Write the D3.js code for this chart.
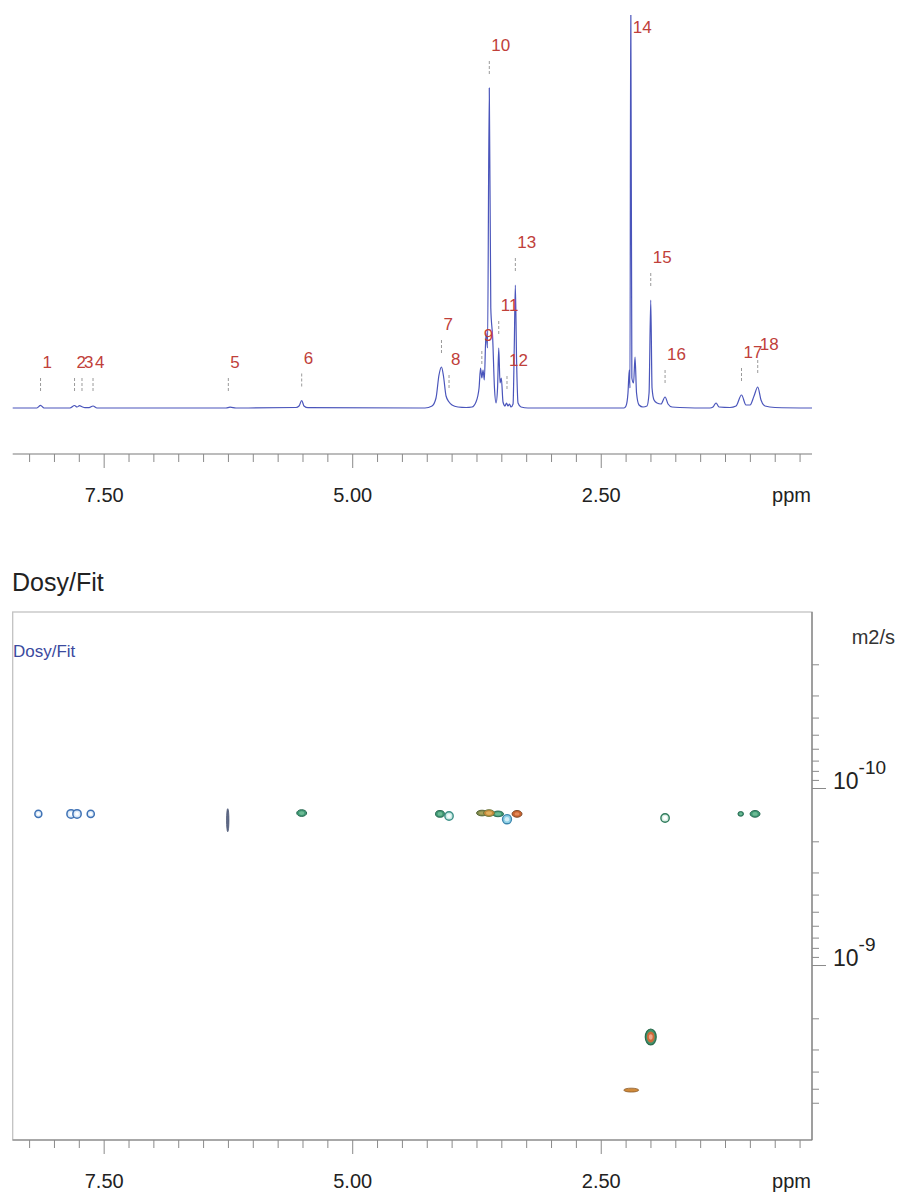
<!DOCTYPE html>
<html>
<head>
<meta charset="utf-8">
<script src="https://cdn.jsdelivr.net/npm/d3@7"></script>
<style>
  body { margin: 0; background: #fff; }
  svg { display: block; font-family: "Liberation Sans", Arial, sans-serif; }
</style>
</head>
<body>
<svg id="chart" width="902" height="1198"></svg>
<script>
// ---- 1H spectrum, traced as [ppm, intensity (a.u.)] ----
const spectrum = [
  [8.415,0],[8.171,0],[8.135,2.6],[8.100,0],[7.839,0],[7.793,2.5],[7.768,1],[7.743,2.3],
  [7.718,1.2],[7.688,0.3],[7.647,0.3],[7.607,2],[7.567,0],[6.269,0],[6.229,0.8],[6.169,0],
  [5.565,0.5],[5.535,2],[5.508,7.5],[5.485,2],[5.445,0.3],[4.268,0],[4.197,2],[4.157,10],
  [4.127,33],[4.102,41],[4.082,32],[4.056,12],[4.026,6],[3.996,3],[3.936,1],[3.855,0.5],
  [3.795,1],[3.755,6],[3.724,20],[3.709,40],[3.696,30],[3.684,38],[3.671,28],[3.654,75],
  [3.639,60],[3.621,320],[3.606,100],[3.587,70],[3.569,20],[3.553,5],[3.538,20],[3.526,60],
  [3.513,25],[3.500,30],[3.483,6],[3.463,2],[3.448,5],[3.433,2],[3.418,4],[3.403,1],
  [3.382,4],[3.370,60],[3.359,123],[3.347,50],[3.332,5],[3.302,1],[3.232,0],[2.266,0],
  [2.246,2],[2.226,15],[2.213,38],[2.206,20],[2.198,420],[2.187,30],[2.170,25],[2.155,51],
  [2.140,15],[2.115,3],[2.075,1],[2.035,2],[2.014,15],[1.997,108],[1.984,20],[1.964,8],
  [1.934,5],[1.894,4],[1.853,11],[1.823,4],[1.783,1],[1.703,0.5],[1.401,0],[1.371,1],
  [1.340,5],[1.310,1],[1.200,0.5],[1.139,2],[1.084,13],[1.039,3],[0.998,3],[0.958,12],
  [0.921,21],[0.888,8],[0.848,2],[0.747,0.5],[0.375,0]
];

// ---- peak picking labels ----
const peakNames = ["1","2","3","4","5","6","7","8","9","10","11","12","13","14","15","16","17","18"];
const peakPpm   = [8.135,7.793,7.718,7.607,6.246,5.508,4.102,4.026,3.696,3.621,3.526,3.443,3.359,2.198,1.997,1.853,1.084,0.921];

// ---- chemical shift axis ----
const ppmRange = [8.415, 0.375];
const ppmTicks = d3.range(2, 34).map(i => i * 0.25);
const ppmLabelled = [7.5, 5.0, 2.5];

// ---- diffusion axis (m2/s) ----
const diffRange = [1.013e-11, 9.74e-9];
const diffTicks = [2e-11,3e-11,4e-11,5e-11,6e-11,7e-11,8e-11,9e-11,1e-10,
                   2e-10,3e-10,4e-10,5e-10,6e-10,7e-10,8e-10,9e-10,1e-9,
                   2e-9,3e-9,4e-9,5e-9,6e-9];
const diffLabelled = [1e-10, 1e-9];

// ---- DOSY fit contours ----
const spotPpm     = [8.157,7.828,7.768,7.630,6.252,5.508,4.117,4.026,3.694,3.533,3.624,3.342,3.443,1.853,1.092,0.948,1.997,2.193];
const spotD       = [1.40e-10,1.40e-10,1.40e-10,1.40e-10,1.52e-10,1.385e-10,1.40e-10,1.44e-10,1.385e-10,1.40e-10,1.385e-10,1.40e-10,1.50e-10,1.477e-10,1.40e-10,1.40e-10,2.55e-9,5.09e-9];
const spotHalfPpm = [0.035,0.042,0.042,0.036,0.012,0.05,0.045,0.042,0.055,0.055,0.055,0.05,0.045,0.042,0.028,0.05,0.055,0.075];
const spotHalfDec = [0.02,0.024,0.024,0.02,0.065,0.019,0.019,0.024,0.016,0.016,0.019,0.019,0.026,0.024,0.013,0.019,0.045,0.011];
const spotTone    = ["blue","blue","blue","blue","slate","green","green","teal","olive","green","orange","rust","cyan","greenRing","green","green","core","amber"];

// contour level styles (outer -> inner)
const tones = {
  blue:      [{k:1, fill:"#dbe9f7", stroke:"#3f72b5", sw:1.5}, {k:0.45, fill:"#ffffff", stroke:"none", sw:0}],
  slate:     [{k:1, fill:"#5f6a88", stroke:"#4a5572", sw:0.8}],
  green:     [{k:1, fill:"#3f9874", stroke:"#2c6c55", sw:1}, {k:0.55, fill:"#6dbb95", stroke:"none", sw:0}],
  greenRing: [{k:1, fill:"#d9efe4", stroke:"#2f7b5c", sw:1.4}, {k:0.5, fill:"#ffffff", stroke:"none", sw:0}],
  teal:      [{k:1, fill:"#c9ebe5", stroke:"#3b8f86", sw:1.4}, {k:0.5, fill:"#f4fbfa", stroke:"none", sw:0}],
  olive:     [{k:1, fill:"#7f8a4d", stroke:"#566536", sw:1}, {k:0.55, fill:"#a6a35e", stroke:"none", sw:0}],
  orange:    [{k:1, fill:"#c68a3c", stroke:"#6f7a3f", sw:1}, {k:0.55, fill:"#e0b060", stroke:"none", sw:0}],
  rust:      [{k:1, fill:"#c9632f", stroke:"#7d4b2c", sw:1}, {k:0.5, fill:"#e48a5a", stroke:"none", sw:0}],
  cyan:      [{k:1, fill:"#8fd0e6", stroke:"#3c86ad", sw:1.4}, {k:0.5, fill:"#d5eef7", stroke:"none", sw:0}],
  core:      [{k:1, fill:"#3f946c", stroke:"#2b6a4c", sw:1.2}, {k:0.7, fill:"#cf6a3a", stroke:"none", sw:0}, {k:0.35, fill:"#f1a68a", stroke:"none", sw:0}],
  amber:     [{k:1, fill:"#d08a3a", stroke:"#8a5a2a", sw:0.8}]
};

const svg = d3.select("#chart");

// ================= spectrum panel =================
const x = d3.scaleLinear().domain(ppmRange).range([12.7, 812]);
const yI = d3.scaleLinear().domain([0, 320]).range([408, 88]);
const specTop = 15;

svg.append("clipPath").attr("id", "specClip")
  .append("rect").attr("x", 0).attr("y", specTop).attr("width", 902).attr("height", 420 - specTop);

svg.append("path")
  .datum(spectrum)
  .attr("clip-path", "url(#specClip)")
  .attr("fill", "none")
  .attr("stroke", "#4a55bb")
  .attr("stroke-width", 1.2)
  .attr("d", d3.line().x(d => x(d[0])).y(d => yI(d[1])).curve(d3.curveMonotoneX));

// peak labels sit above the local maximum
const labelG = svg.append("g");
peakNames.forEach((name, i) => {
  const p = peakPpm[i];
  const level = d3.max(spectrum.filter(d => Math.abs(d[0] - p) <= 0.012), d => d[1]) || 0;
  const yTop = Math.max(specTop, yI(level));
  const tickBottom = Math.min(yTop - 13, 392);
  const tickTop = tickBottom - 14;
  const px = x(p);
  if (tickBottom > specTop + 4) {
    labelG.append("line")
      .attr("x1", px).attr("x2", px)
      .attr("y1", tickTop).attr("y2", tickBottom)
      .attr("stroke", "#9a9a9a").attr("stroke-width", 1)
      .attr("stroke-dasharray", "3,2");
  }
  labelG.append("text")
    .attr("x", px + 2)
    .attr("y", Math.max(33, tickTop - 10))
    .attr("font-size", 17)
    .attr("fill", "#c0403a")
    .text(name);
});

// ppm axis helper
function ppmAxis(yPos) {
  const g = svg.append("g").attr("transform", `translate(0,${yPos})`);
  g.call(d3.axisBottom(x).tickValues(ppmTicks).tickSize(8).tickSizeOuter(0)
    .tickFormat(d => ppmLabelled.includes(d) ? d3.format(".2f")(d) : ""));
  g.select(".domain").attr("stroke", "#7a7a7a").attr("stroke-width", 1.2)
    .attr("d", `M${x(ppmRange[0])},0H${x(ppmRange[1])}`);
  g.selectAll(".tick line").attr("stroke", "#8a8a8a")
    .attr("y2", d => ppmLabelled.includes(d) ? 14 : 8);
  g.selectAll(".tick text").attr("y", 48).attr("dy", 0)
    .attr("font-size", 20).attr("fill", "#222")
    .attr("font-family", "'Liberation Sans', Arial, sans-serif");
  g.append("text").attr("x", 811).attr("y", 48)
    .attr("text-anchor", "end").attr("font-size", 20).attr("fill", "#222").text("ppm");
  return g;
}
ppmAxis(454);

// ================= DOSY panel =================
const boxTop = 612, boxBottom = 1140, boxLeft = 12.7, boxRight = 812;
const yD = d3.scaleLog().domain(diffRange).range([boxTop, boxBottom]);

svg.append("text").attr("x", 12).attr("y", 591)
  .attr("font-size", 25).attr("fill", "#222").text("Dosy/Fit");

svg.append("rect")
  .attr("x", boxLeft).attr("y", boxTop)
  .attr("width", boxRight - boxLeft).attr("height", boxBottom - boxTop)
  .attr("fill", "none").attr("stroke", "#c2c2c2").attr("stroke-width", 1.3);

svg.append("text").attr("x", 13).attr("y", 657)
  .attr("font-size", 17).attr("fill", "#3b4a9e").text("Dosy/Fit");

// right diffusion axis
const gR = svg.append("g").attr("transform", `translate(${boxRight},0)`);
gR.call(d3.axisRight(yD).tickValues(diffTicks).tickSize(7).tickSizeOuter(0).tickFormat(""));
gR.select(".domain").attr("stroke", "#7a7a7a").attr("stroke-width", 1.2)
  .attr("d", `M0,${boxTop}V${boxBottom}`);
gR.selectAll(".tick line").attr("stroke", "#8a8a8a")
  .attr("x2", d => diffLabelled.includes(d) ? 14 : 7);
diffLabelled.forEach(v => {
  const t = svg.append("text")
    .attr("x", boxRight + 21).attr("y", yD(v) + 1)
    .attr("font-size", 23).attr("fill", "#222");
  t.append("tspan").text("10");
  t.append("tspan").attr("dy", -15).attr("font-size", 19).text("-" + Math.round(-Math.log10(v)));
});
svg.append("text").attr("x", 895).attr("y", 644)
  .attr("text-anchor", "end").attr("font-size", 20).attr("fill", "#333").text("m2/s");

// contours
const spotG = svg.append("g");
spotPpm.forEach((p, i) => {
  const cx = x(p), cy = yD(spotD[i]);
  const rx = Math.abs(x(p + spotHalfPpm[i]) - cx);
  const ry = Math.abs(yD(spotD[i] * Math.pow(10, spotHalfDec[i])) - cy);
  tones[spotTone[i]].forEach(lv => {
    spotG.append("ellipse")
      .attr("cx", cx).attr("cy", cy)
      .attr("rx", rx * lv.k).attr("ry", ry * lv.k)
      .attr("fill", lv.fill).attr("stroke", lv.stroke).attr("stroke-width", lv.sw);
  });
});

ppmAxis(boxBottom);
</script>
</body>
</html>
